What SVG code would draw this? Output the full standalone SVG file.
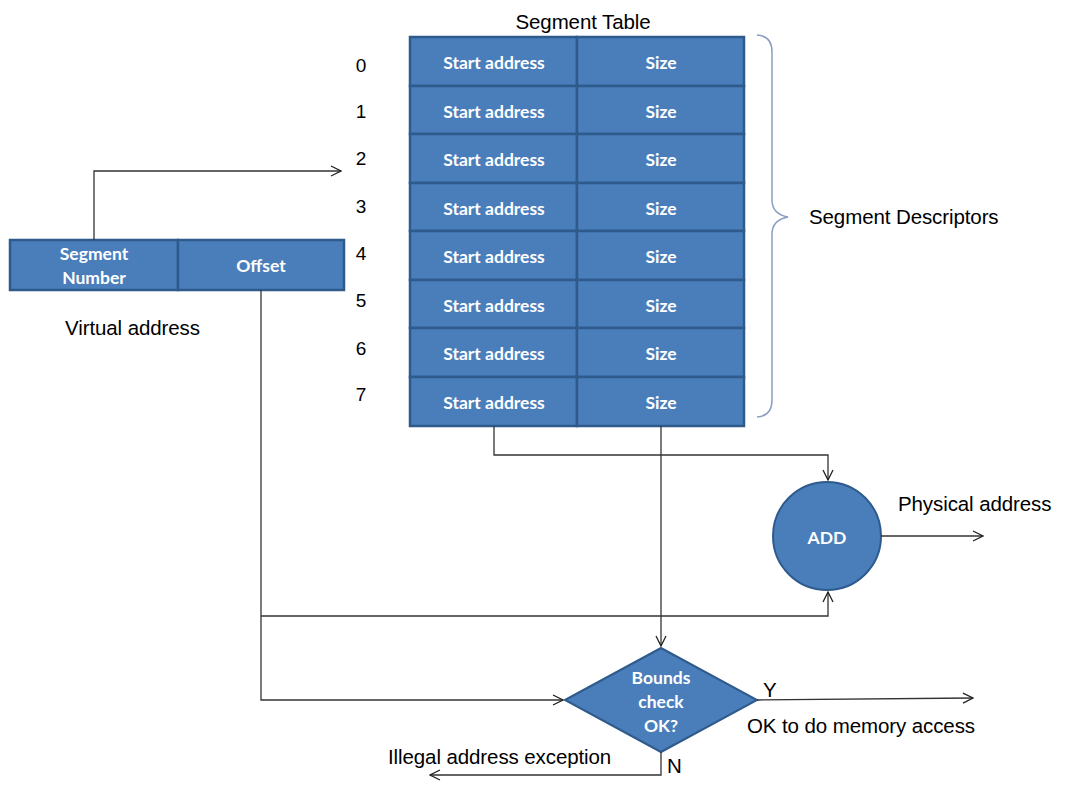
<svg xmlns="http://www.w3.org/2000/svg" width="1069" height="792" viewBox="0 0 1069 792">
<defs>
<marker id="arr" viewBox="0 0 12 12" refX="11" refY="6" markerWidth="12" markerHeight="12" markerUnits="userSpaceOnUse" orient="auto">
<path d="M1,1 L11,6 L1,11" fill="none" stroke="#222" stroke-width="1.3"/>
</marker>
<style>
.cell{fill:#4a7ebb;stroke:#2f5a8c;stroke-width:2.5}
.wt{fill:#fff;font-family:Lato,"Open Sans",sans-serif;font-size:17.5px;font-weight:bold;text-anchor:middle;dominant-baseline:central}
.bt{fill:#000;font-family:"Liberation Sans",Arial,sans-serif;font-size:20.5px;letter-spacing:-0.1px}
.num{fill:#000;font-family:"Liberation Sans",Arial,sans-serif;font-size:19px;text-anchor:middle;dominant-baseline:central}
.ln{fill:none;stroke:#333;stroke-width:1.3}
</style>
</defs>
<rect width="1069" height="792" fill="#fff"/>
<text class="bt" x="583" y="29" text-anchor="middle">Segment Table</text>
<g id="segment-table">
<rect class="cell" x="410" y="37" width="167" height="49"/><rect class="cell" x="577" y="37" width="167" height="49"/>
<rect class="cell" x="410" y="86" width="167" height="48"/><rect class="cell" x="577" y="86" width="167" height="48"/>
<rect class="cell" x="410" y="134" width="167" height="49"/><rect class="cell" x="577" y="134" width="167" height="49"/>
<rect class="cell" x="410" y="183" width="167" height="48"/><rect class="cell" x="577" y="183" width="167" height="48"/>
<rect class="cell" x="410" y="231" width="167" height="49"/><rect class="cell" x="577" y="231" width="167" height="49"/>
<rect class="cell" x="410" y="280" width="167" height="48"/><rect class="cell" x="577" y="280" width="167" height="48"/>
<rect class="cell" x="410" y="328" width="167" height="49"/><rect class="cell" x="577" y="328" width="167" height="49"/>
<rect class="cell" x="410" y="377" width="167" height="49"/><rect class="cell" x="577" y="377" width="167" height="49"/>
<text class="wt" x="494" y="62">Start address</text><text class="wt" x="661" y="62">Size</text>
<text class="wt" x="494" y="111">Start address</text><text class="wt" x="661" y="111">Size</text>
<text class="wt" x="494" y="159">Start address</text><text class="wt" x="661" y="159">Size</text>
<text class="wt" x="494" y="208">Start address</text><text class="wt" x="661" y="208">Size</text>
<text class="wt" x="494" y="256">Start address</text><text class="wt" x="661" y="256">Size</text>
<text class="wt" x="494" y="305">Start address</text><text class="wt" x="661" y="305">Size</text>
<text class="wt" x="494" y="353">Start address</text><text class="wt" x="661" y="353">Size</text>
<text class="wt" x="494" y="402">Start address</text><text class="wt" x="661" y="402">Size</text>
</g>
<g id="row-numbers">
<text class="num" x="361" y="65">0</text>
<text class="num" x="361" y="111">1</text>
<text class="num" x="361" y="158">2</text>
<text class="num" x="361" y="206">3</text>
<text class="num" x="361" y="253">4</text>
<text class="num" x="361" y="300">5</text>
<text class="num" x="361" y="348">6</text>
<text class="num" x="361" y="394">7</text>
</g>
<g id="brace">
<path d="M757,35 Q772,36 772,52 L772,200 Q772,214 788,217 Q772,220 772,234 L772,400 Q772,416 757,417" fill="none" stroke="#8b9dc3" stroke-width="1.5"/>
<text class="bt" x="809" y="224">Segment Descriptors</text>
</g>
<g id="virtual-address">
<rect class="cell" x="10" y="240" width="168" height="50"/>
<rect class="cell" x="178" y="240" width="166" height="50"/>
<text class="wt" x="94" y="253">Segment</text>
<text class="wt" x="94" y="277">Number</text>
<text class="wt" x="261" y="265">Offset</text>
<text class="bt" x="65" y="335">Virtual address</text>
</g>
<g id="add">
<circle cx="827" cy="536" r="54" fill="#4a7ebb" stroke="#2f5a8c" stroke-width="2"/>
<text class="wt" x="827" y="537">ADD</text>
</g>
<g id="bounds-check">
<polygon points="565,700 661,648 757,700 661,752" fill="#4a7ebb" stroke="#2f5a8c" stroke-width="2"/>
<text class="wt" x="661" y="677">Bounds</text>
<text class="wt" x="661" y="701">check</text>
<text class="wt" x="661" y="725">OK?</text>
</g>
<g id="connectors">
<path class="ln" d="M94,240 L94,171 L341,171" marker-end="url(#arr)"/>
<path class="ln" d="M261,290 L261,700 L563,700" marker-end="url(#arr)"/>
<path class="ln" d="M261,616 L828,616 L828,592" marker-end="url(#arr)"/>
<path class="ln" d="M494,426 L494,455 L828,455 L828,480" marker-end="url(#arr)"/>
<path class="ln" d="M661,426 L661,646" marker-end="url(#arr)"/>
<path class="ln" d="M881,536 L983,536" marker-end="url(#arr)"/>
<path class="ln" d="M757,700 L973,698" marker-end="url(#arr)"/>
<path class="ln" d="M661,752 L661,775 L430,775" marker-end="url(#arr)"/>
</g>
<g id="labels">
<text class="bt" x="898" y="511">Physical address</text>
<text class="bt" x="763" y="697">Y</text>
<text class="bt" x="747" y="733">OK to do memory access</text>
<text class="bt" x="667" y="773">N</text>
<text class="bt" x="388" y="764">Illegal address exception</text>
</g>
</svg>
